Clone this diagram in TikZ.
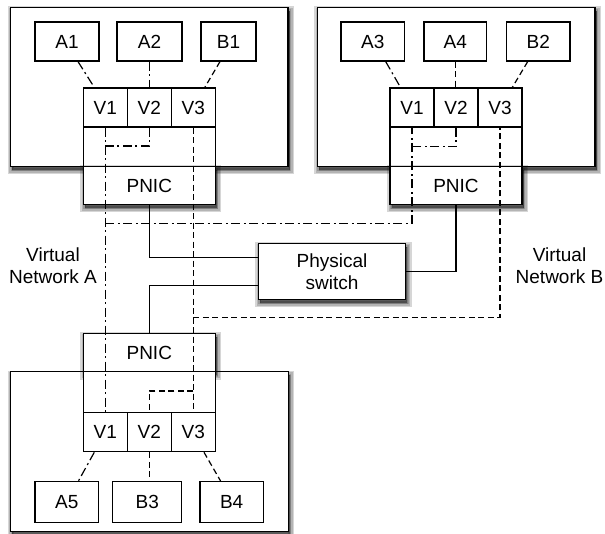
\documentclass[tikz,border=0pt]{standalone}
\usepackage{fontspec}
\setmainfont{Liberation Sans}
\newcommand\lblfont{\fontsize{19}{22}\selectfont}
\begin{document}
\begin{tikzpicture}[x=1pt,y=-1pt,
 box/.style={draw, line width=1.2pt, fill=white, inner sep=0pt, font=\lblfont, align=center},
 shl/.style={preaction={draw=black, draw opacity=0.16, fill=black, fill opacity=0.16, line width=#1, transform canvas={xshift=1.5pt,yshift=-3.5pt}}},
 shad/.style={shl=9pt, shl=6pt, shl=3pt, shl=0.5pt},
 cell/.style={box, minimum width=44pt, minimum height=39pt},
 vm/.style={box, minimum height=39pt},
 plain/.style={inner sep=0pt, font=\lblfont, align=center},
 neta/.style={line width=1.2pt, dash pattern=on 9pt off 3.5pt on 2pt off 3.5pt},
 netb/.style={line width=1.2pt, dash pattern=on 6pt off 3.5pt},
 wire/.style={line width=1.2pt}]

\useasboundingbox (0,0) rectangle (605,534);

% ---------- host boxes ----------
\node[box, shad, minimum width=277.3pt, minimum height=159.2pt] (H1) at (149.35,86.9) {};
\node[box, shad, minimum width=277.7pt, minimum height=159.2pt] (H2) at (456.15,86.9) {};
\node[box, shad, minimum width=277.6pt, minimum height=160pt] (H3) at (149.5,451.7) {};

% ---------- top-left host ----------
\node[cell] (V1a) at (105.3,107.5) {V1};
\node[cell] (V2a) at (149.3,107.5) {V2};
\node[cell] (V3a) at (193.3,107.5) {V3};
\node[box, minimum width=132pt, minimum height=39.5pt] (IN1) at (149.3,146.75) {};
\node[box, shad, minimum width=132pt, minimum height=38pt] (P1) at (149.3,185.5) {PNIC};
\node[vm, minimum width=64pt] (A1) at (67,41.5) {A1};
\node[vm, minimum width=65pt] (A2) at (149.5,41.5) {A2};
\node[vm, minimum width=55pt] (B1) at (228.5,41.5) {B1};

% ---------- top-right host ----------
\node[cell] (V1b) at (412,107.5) {V1};
\node[cell] (V2b) at (456,107.5) {V2};
\node[cell] (V3b) at (500,107.5) {V3};
\node[box, minimum width=132pt, minimum height=39.5pt] (IN2) at (456,146.75) {};
\node[box, shad, minimum width=132pt, minimum height=38pt] (P2) at (456,185.5) {PNIC};
\node[vm, minimum width=63.3pt] (A3) at (372.7,41.5) {A3};
\node[vm, minimum width=62.7pt] (A4) at (455.3,41.5) {A4};
\node[vm, minimum width=63.3pt] (B2) at (538.3,41.5) {B2};

% ---------- bottom host ----------
\node[box, shad, minimum width=132pt, minimum height=38.4pt] (P3) at (149.3,352.5) {PNIC};
\node[box, minimum width=132pt, minimum height=41pt] (IN3) at (149.3,392.2) {};
\node[cell] (V1c) at (105.3,432.2) {V1};
\node[cell] (V2c) at (149.3,432.2) {V2};
\node[cell] (V3c) at (193.3,432.2) {V3};
\node[vm, minimum width=63.7pt, minimum height=41pt] (A5) at (66.85,502.2) {A5};
\node[vm, minimum width=69pt, minimum height=41pt] (B3) at (147.2,502.2) {B3};
\node[vm, minimum width=63.3pt, minimum height=41pt] (B4) at (231.65,502.2) {B4};

% ---------- switch and labels ----------
\node[box, shad, minimum width=147.4pt, minimum height=56pt] (SW) at (332,271.3) {Physical\\switch};
\node[plain] (LA) at (53,266) {Virtual\\Network A};
\node[plain] (LB) at (559.5,266) {Virtual\\Network B};

% ---------- VM to V connectors ----------
\draw[neta] ([xshift=11pt]A1.south) -- ([xshift=-11pt]V1a.north);
\draw[neta] (A2.south) -- (A2.south |- V2a.north);
\draw[netb] ([xshift=-8.5pt]B1.south) -- ([xshift=11.5pt]V3a.north);
\draw[neta] ([xshift=13pt]A3.south) -- ([xshift=-11.5pt]V1b.north);
\draw[netb] (A4.south) -- (A4.south |- V2b.north);
\draw[netb] ([xshift=-10.6pt]B2.south) -- ([xshift=12.3pt]V3b.north);
\draw[neta] ([xshift=-11pt]V1c.south) -- ([xshift=11.5pt]A5.north);
\draw[netb] (V2c.south) -- (V2c.south |- B3.north);
\draw[netb] ([xshift=10.7pt]V3c.south) -- ([xshift=-11pt]B4.north);

% ---------- virtual network A (dash-dot) ----------
\coordinate (ja) at (105.3,223.5);
\draw[neta] (V1a.south) -- (V1c.north);
\draw[neta] (V2a.south) |- (105.3,146);
\draw[neta] (ja) -| (V1b.south);
\draw[neta] (V2b.south) |- (412,146.7);

% ---------- virtual network B (dashed) ----------
\coordinate (jb) at (193.3,317.3);
\draw[netb] (V3a.south) -- (V3c.north);
\draw[netb] (jb) -| (V3b.south);
\draw[netb] (193.3,391) -| (V2c.north);

% ---------- physical wires ----------
\draw[wire] (P1.south) |- ([yshift=14pt]SW.west);
\draw[wire] (P3.north) |- ([yshift=-14.3pt]SW.west);
\draw[wire] (P2.south) |- (SW.east);
\end{tikzpicture}
\end{document}
